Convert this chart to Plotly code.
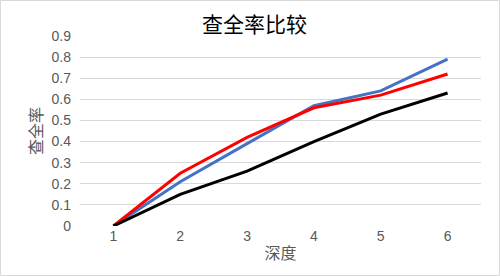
import plotly.graph_objects as go

depth = ["1", "2", "3", "4", "5", "6"]
blue_vals = [0, 0.21, 0.39, 0.57, 0.64, 0.79]
red_vals = [0, 0.25, 0.42, 0.56, 0.62, 0.72]
black_vals = [0, 0.15, 0.26, 0.40, 0.53, 0.63]
y_ticks = [0, 0.1, 0.2, 0.3, 0.4, 0.5, 0.6, 0.7, 0.8, 0.9]
y_tick_text = ["0", "0.1", "0.2", "0.3", "0.4", "0.5", "0.6", "0.7", "0.8", "0.9"]

FONT = "Liberation Sans, Noto Sans CJK SC, sans-serif"
CJK = "Noto Sans CJK SC, sans-serif"

fig = go.Figure()
for vals, col in [(blue_vals, "#4472C4"), (red_vals, "#FF0000"), (black_vals, "#000000")]:
    fig.add_trace(go.Scatter(x=depth, y=vals, mode="lines",
                             line=dict(color=col, width=3),
                             cliponaxis=False, showlegend=False))

W, H = 500, 276
L, R, T, B = 80, 19, 36, 50
pw, ph = W - L - R, H - T - B

fig.update_layout(
    width=W, height=H,
    margin=dict(l=L, r=R, t=T, b=B),
    paper_bgcolor="white", plot_bgcolor="white",
    font=dict(family=FONT, color="#595959", size=14),
    title=dict(text="查全率比较", x=0.509, xanchor="center", y=1 - 25 / H, yanchor="middle",
               font=dict(family=CJK, size=21, color="#000000")),
    xaxis=dict(type="category", range=[-0.5, 5.5], showgrid=False, zeroline=False,
               showline=False, ticks="", tickfont=dict(size=14, color="#595959"),
               title=dict(text="深度", standoff=4,
                          font=dict(family=CJK, size=16, color="#595959"))),
    yaxis=dict(range=[0, 0.9], tickvals=y_ticks, ticktext=y_tick_text,
               showgrid=True, gridcolor="#D9D9D9", gridwidth=1, zeroline=False,
               showline=False, ticks="", ticklabelstandoff=8,
               tickfont=dict(size=14, color="#595959"),
               title=dict(text="查全率", standoff=4,
                          font=dict(family=CJK, size=16, color="#595959"))),
)

fig.add_shape(type="rect", xref="paper", yref="paper",
              x0=(0.5 - L) / pw, x1=(W - 0.5 - L) / pw,
              y0=(T + ph - (H - 0.5)) / ph, y1=(T + ph - 0.5) / ph,
              line=dict(color="#D9D9D9", width=1), layer="below")

fig.write_html("out.html", config={"displayModeBar": False},
               post_script="document.body.style.margin='0';document.body.style.padding='0';")
